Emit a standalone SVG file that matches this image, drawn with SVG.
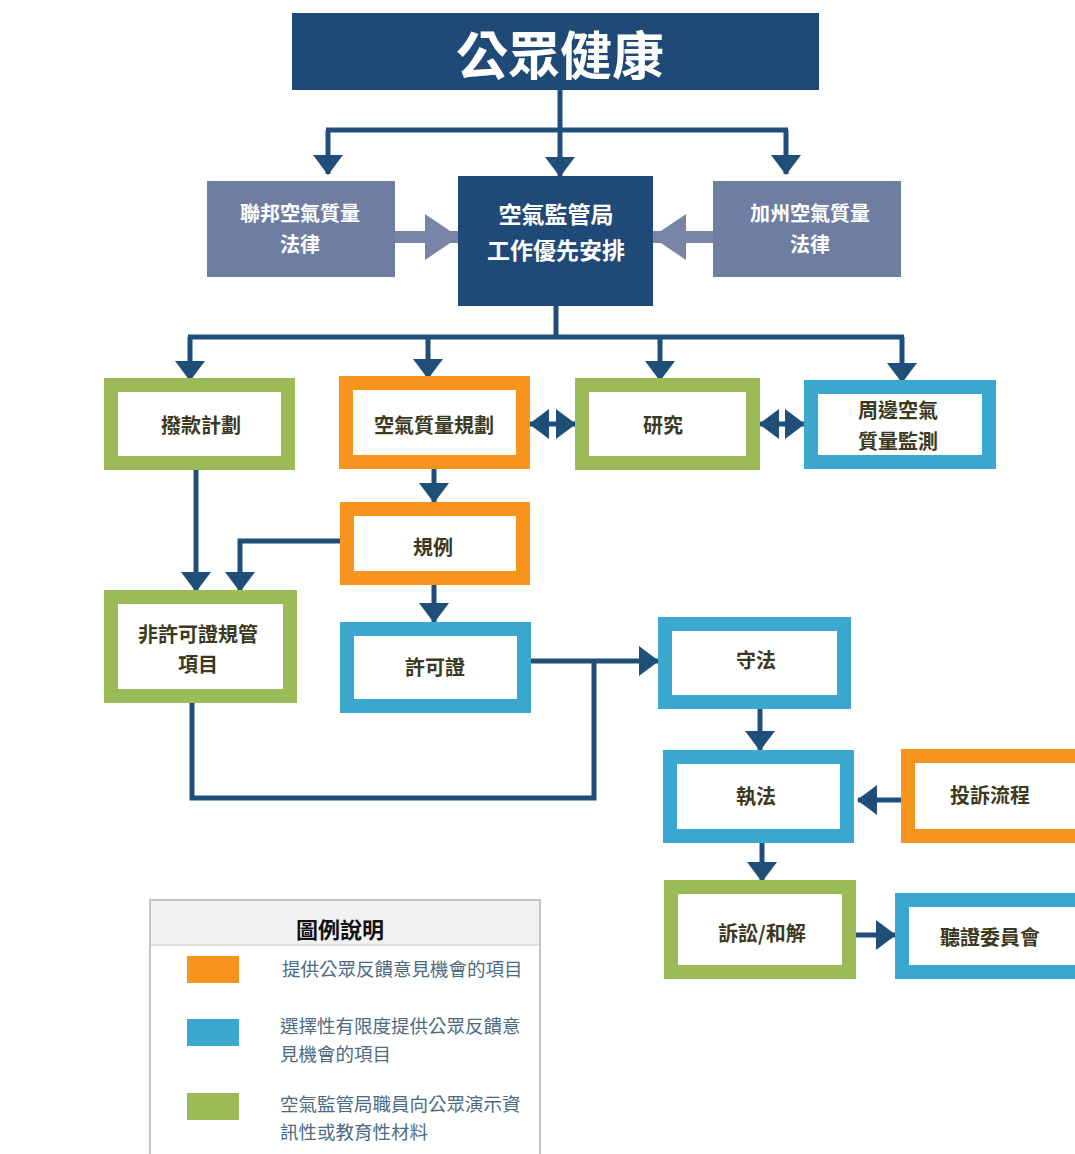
<svg xmlns="http://www.w3.org/2000/svg" width="1075" height="1154" viewBox="0 0 1075 1154">
<style>
.nt{font-family:"Noto Sans CJK TC","Noto Sans CJK SC",sans-serif;font-weight:bold;font-size:20px;fill:#3b3a1f;text-anchor:middle;dominant-baseline:central}
.wt{font-family:"Noto Sans CJK TC","Noto Sans CJK SC",sans-serif;font-weight:bold;fill:#ffffff;text-anchor:middle;dominant-baseline:central}
.lt{font-family:"Noto Sans CJK TC","Noto Sans CJK SC",sans-serif;font-size:18.5px;fill:#4c6b82;dominant-baseline:central}
.g{fill:#fff;stroke:#9bbb59;stroke-width:14}
.o{fill:#fff;stroke:#f7941d;stroke-width:14}
.b{fill:#fff;stroke:#3aa8cf;stroke-width:14}
.ln{fill:none;stroke:#1f4e79;stroke-width:5}
.gl{fill:none;stroke:#7885a6;stroke-width:12}
</style>
<defs>
<marker id="ah" viewBox="0 0 20 30" refX="19" refY="15" markerWidth="20" markerHeight="30" markerUnits="userSpaceOnUse" orient="auto-start-reverse">
<path d="M0,0 L20,15 L0,30 z" fill="#1f4e79"/>
</marker>
<marker id="gh" viewBox="0 0 34 46" refX="33" refY="23" markerWidth="34" markerHeight="46" markerUnits="userSpaceOnUse" orient="auto">
<path d="M0,0 L34,23 L0,46 z" fill="#7885a6"/>
</marker>
</defs>
<rect width="1075" height="1154" fill="#ffffff"/>

<g id="connectors">
<path class="ln" d="M560,90 V130 M326,130 H788"/>
<path class="ln" d="M328,130 V174" marker-end="url(#ah)"/>
<path class="ln" d="M560,130 V176" marker-end="url(#ah)"/>
<path class="ln" d="M786,130 V174" marker-end="url(#ah)"/>
<path class="gl" d="M395,237 H458" marker-end="url(#gh)"/>
<path class="gl" d="M713,237 H653" marker-end="url(#gh)"/>
<path class="ln" d="M556,306 V337 M188,337 H904"/>
<path class="ln" d="M190,337 V380" marker-end="url(#ah)"/>
<path class="ln" d="M428,337 V378" marker-end="url(#ah)"/>
<path class="ln" d="M660,337 V380" marker-end="url(#ah)"/>
<path class="ln" d="M902,337 V382" marker-end="url(#ah)"/>
<path class="ln" d="M530,424 H575" stroke-width="8" marker-start="url(#ah)" marker-end="url(#ah)"/>
<path class="ln" d="M760,424 H804" stroke-width="8" marker-start="url(#ah)" marker-end="url(#ah)"/>
<path class="ln" d="M434,469 V502" marker-end="url(#ah)"/>
<path class="ln" d="M196,470 V591" marker-end="url(#ah)"/>
<path class="ln" d="M340,541 H240 V591" marker-end="url(#ah)"/>
<path class="ln" d="M434,585 V622" marker-end="url(#ah)"/>
<path class="ln" d="M531,661 H658" marker-end="url(#ah)"/>
<path class="ln" d="M192,703 V798 H594 V661"/>
<path class="ln" d="M760,709 V750" marker-end="url(#ah)"/>
<path class="ln" d="M901,800 H858" marker-end="url(#ah)"/>
<path class="ln" d="M762,843 V881" marker-end="url(#ah)"/>
<path class="ln" d="M856,935 H895" marker-end="url(#ah)"/>
</g>

<g id="n-title">
<rect x="292" y="13" width="527" height="77" fill="#1f4a78"/>
<text class="wt" x="560" y="52" font-size="52">公眾健康</text>
</g>
<g id="n-federal">
<rect x="207" y="181" width="188" height="96" fill="#6e7ea3"/>
<text class="wt" x="300" y="212" font-size="20">聯邦空氣質量</text>
<text class="wt" x="300" y="243" font-size="20">法律</text>
</g>
<g id="n-carb">
<rect x="458" y="176" width="195" height="130" fill="#1f4a78"/>
<text class="wt" x="556" y="213" font-size="23">空氣監管局</text>
<text class="wt" x="556" y="249" font-size="23">工作優先安排</text>
</g>
<g id="n-ca">
<rect x="713" y="181" width="188" height="96" fill="#6e7ea3"/>
<text class="wt" x="810" y="212" font-size="20">加州空氣質量</text>
<text class="wt" x="810" y="243" font-size="20">法律</text>
</g>

<g id="n-grants">
<rect class="g" x="111" y="385" width="177" height="78"/>
<text class="nt" x="201" y="424">撥款計劃</text>
</g>
<g id="n-aqplan">
<rect class="o" x="346" y="383" width="177" height="79"/>
<text class="nt" x="434" y="424">空氣質量規劃</text>
</g>
<g id="n-research">
<rect class="g" x="582" y="385" width="171" height="78"/>
<text class="nt" x="663" y="424">研究</text>
</g>
<g id="n-monitor">
<rect class="b" x="811" y="387" width="178" height="75"/>
<text class="nt" x="898" y="409">周邊空氣</text>
<text class="nt" x="898" y="440">質量監測</text>
</g>
<g id="n-rules">
<rect class="o" x="347" y="509" width="176" height="69"/>
<text class="nt" x="433" y="546">規例</text>
</g>
<g id="n-nonpermit">
<rect class="g" x="111" y="597" width="179" height="99"/>
<text class="nt" x="198" y="633">非許可證規管</text>
<text class="nt" x="198" y="663">項目</text>
</g>
<g id="n-permit">
<rect class="b" x="347" y="629" width="177" height="77"/>
<text class="nt" x="435" y="666">許可證</text>
</g>
<g id="n-comply">
<rect class="b" x="665" y="624" width="179" height="78"/>
<text class="nt" x="756" y="659">守法</text>
</g>
<g id="n-enforce">
<rect class="b" x="670" y="757" width="177" height="79"/>
<text class="nt" x="756" y="795">執法</text>
</g>
<g id="n-complaint">
<rect class="o" x="908" y="756" width="175" height="80"/>
<text class="nt" x="990" y="794">投訴流程</text>
</g>
<g id="n-litigation">
<rect class="g" x="671" y="887" width="178" height="85"/>
<text class="nt" x="762" y="932">訴訟/和解</text>
</g>
<g id="n-hearing">
<rect class="b" x="902" y="900" width="180" height="72"/>
<text class="nt" x="990" y="936">聽證委員會</text>
</g>

<g id="legend">
<rect x="150" y="900" width="390" height="260" fill="#ffffff" stroke="#c4c4c4" stroke-width="2"/>
<rect x="151" y="901" width="388" height="44" fill="#f1f1f1"/>
<line x1="151" y1="945" x2="539" y2="945" stroke="#d8d8d8" stroke-width="1.5"/>
<text x="340" y="928" font-family="'Noto Sans CJK TC','Noto Sans CJK SC',sans-serif" font-weight="bold" font-size="22" fill="#111" text-anchor="middle" dominant-baseline="central">圖例說明</text>
<rect x="187" y="956" width="52" height="27" fill="#f7941d"/>
<rect x="187" y="1019" width="52" height="27" fill="#3aa8cf"/>
<rect x="187" y="1093" width="52" height="27" fill="#9bbb59"/>
<text class="lt" x="282" y="968">提供公眾反饋意見機會的項目</text>
<text class="lt" x="280" y="1025">選擇性有限度提供公眾反饋意</text>
<text class="lt" x="280" y="1053">見機會的項目</text>
<text class="lt" x="280" y="1103">空氣監管局職員向公眾演示資</text>
<text class="lt" x="280" y="1131">訊性或教育性材料</text>
</g>
</svg>
